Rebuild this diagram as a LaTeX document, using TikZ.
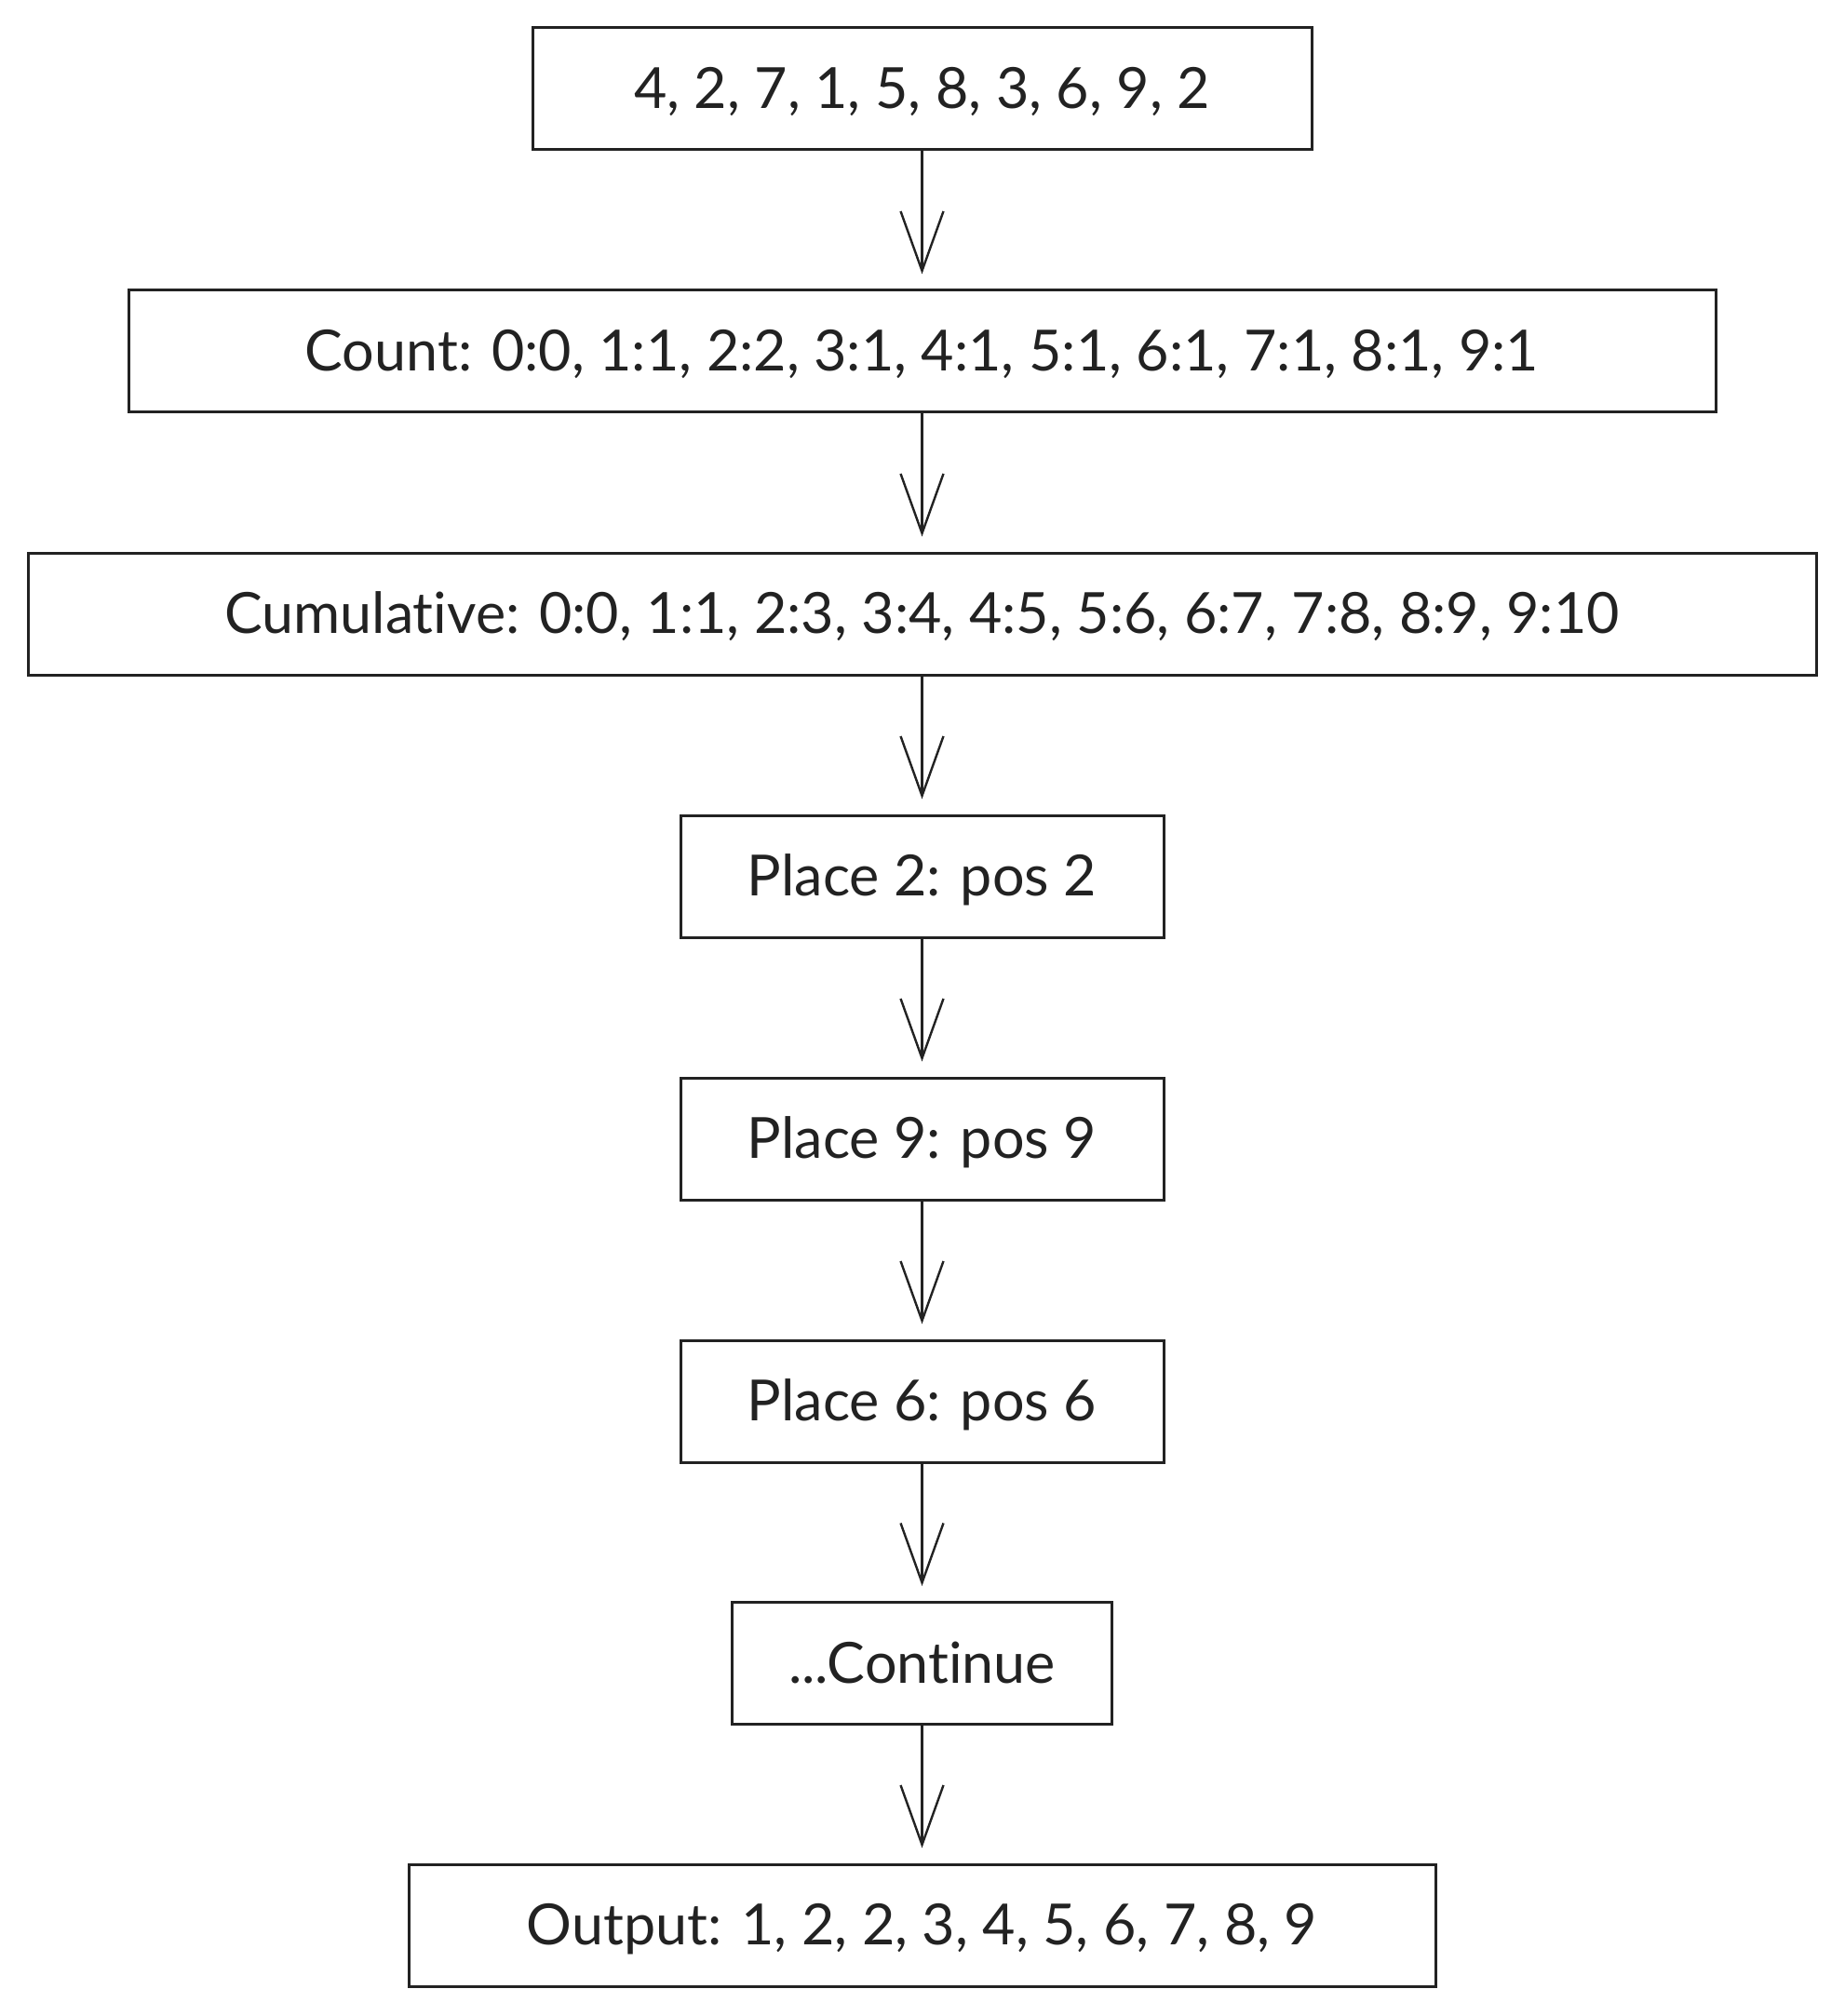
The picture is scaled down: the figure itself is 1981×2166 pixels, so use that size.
\documentclass[tikz,border=0pt]{standalone}
\usepackage{fontspec}
\setmainfont{Lato}[Ligatures=NoCommon]
\usetikzlibrary{arrows.meta}
\definecolor{ink}{HTML}{222222}
\begin{document}
\begin{tikzpicture}[x=0.5pt,y=-0.5pt,
  stepbox/.style={draw=ink, line width=1.5pt, rectangle, inner sep=0pt,
    minimum height=65.5pt, text height=24pt, text depth=3pt,
    text=ink, font=\fontsize{30.5}{36}\selectfont},
  flow/.style={draw=ink, line width=1.5pt,
    -{Straight Barb[length=32pt,width=23pt,line width=1.2pt]}, shorten >=8pt}]
  \useasboundingbox (0,0) rectangle (1981,2166);
  \fill[white] (0,0) rectangle (1981,2166);
  \node[stepbox, minimum width=418.5pt] (n1) at (990.5,95.5) {4, 2, 7, 1, 5, 8, 3, 6, 9, 2};
  \node[stepbox, minimum width=852.5pt] (n2) at (990.5,377.5) {Count: 0:0, 1:1, 2:2, 3:1, 4:1, 5:1, 6:1, 7:1, 8:1, 9:1};
  \node[stepbox, minimum width=960.5pt] (n3) at (990.5,659.5) {Cumulative: 0:0, 1:1, 2:3, 3:4, 4:5, 5:6, 6:7, 7:8, 8:9, 9:10};
  \node[stepbox, minimum width=259.5pt] (n4) at (990.5,941.5) {Place 2: pos 2};
  \node[stepbox, minimum width=259.5pt] (n5) at (990.5,1223.5) {Place 9: pos 9};
  \node[stepbox, minimum width=259.5pt] (n6) at (990.5,1505.5) {Place 6: pos 6};
  \node[stepbox, minimum width=204pt] (n7) at (990.5,1787) {...Continue};
  \node[stepbox, minimum width=551.5pt] (n8) at (990.5,2068.5) {Output: 1, 2, 2, 3, 4, 5, 6, 7, 8, 9};
  \foreach \a/\b in {n1/n2,n2/n3,n3/n4,n4/n5,n5/n6,n6/n7,n7/n8}
    \draw[flow] (\a) -- (\b);
\end{tikzpicture}
\end{document}
